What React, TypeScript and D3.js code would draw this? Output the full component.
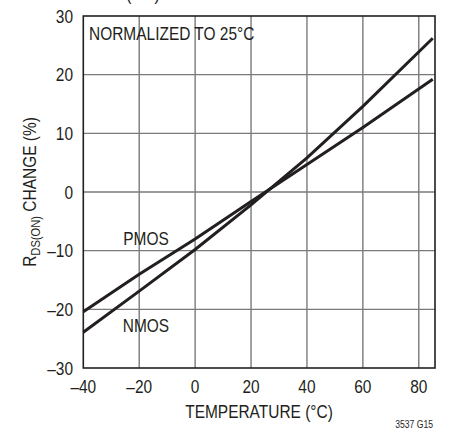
import React from "react";
import * as d3 from "d3";

const xTicks = [-40, -20, 0, 20, 40, 60, 80];
const yTicks = [-30, -20, -10, 0, 10, 20, 30];
const temps = [-40, -20, 0, 20, 40, 60, 85];
const nmos = [-23.9, -16.9, -9.8, -2.2, 5.8, 14.6, 26.2];
const pmos = [-20.4, -14.0, -8.0, -1.6, 4.7, 11.0, 19.2];

const W = 459;
const H = 440;
const FONT = "'Liberation Sans', Arial, sans-serif";
const INK = "#231f20";
const SX = 0.86;

function fmt(v: number) {
  return v < 0 ? "\u2013" + Math.abs(v) : String(v);
}

function T(props: {
  x: number;
  y: number;
  size?: number;
  anchor?: "start" | "middle" | "end";
  rotate?: number;
  children: React.ReactNode;
}) {
  const { x, y, size = 18, anchor = "start", rotate = 0, children } = props;
  return (
    <text
      transform={`translate(${x},${y}) rotate(${rotate}) scale(${SX},1)`}
      fontSize={size}
      textAnchor={anchor}
      fill={INK}
    >
      {children}
    </text>
  );
}

export default function App() {
  const x = d3.scaleLinear().domain([-40, 85.8]).range([83.3, 435]);
  const y = d3.scaleLinear().domain([-30, 30]).range([368, 16]);
  const line = d3
    .line<number>()
    .x((_, i) => x(temps[i]))
    .y((d) => y(d));

  const [x0, x1] = x.range();
  const [y0, y1] = y.range();

  return (
    <svg
      width={W}
      height={H}
      style={{ position: "absolute", left: 0, top: 0, background: "#fff" }}
      fontFamily={FONT}
    >
      <rect x={0} y={0} width={W} height={H} fill="#fff" />
      {/* cut-off top text, as in the reference */}
      <T x={143} y={-0.5} anchor="middle">(ON)</T>
      {/* grid */}
      {xTicks.slice(1).map((t) => (
        <line key={"vx" + t} x1={x(t)} x2={x(t)} y1={y1} y2={y0} stroke="#7a7a7a" strokeWidth={1.4} />
      ))}
      {yTicks.slice(1, -1).map((t) => (
        <line key={"hy" + t} x1={x0} x2={x1} y1={y(t)} y2={y(t)} stroke="#7a7a7a" strokeWidth={1.4} />
      ))}
      {/* border */}
      <rect x={x0} y={y1} width={x1 - x0} height={y0 - y1} fill="none" stroke={INK} strokeWidth={1.6} />
      {/* lines */}
      <path d={line(nmos) || ""} fill="none" stroke={INK} strokeWidth={3} />
      <path d={line(pmos) || ""} fill="none" stroke={INK} strokeWidth={3} />
      {/* tick labels */}
      {xTicks.map((t) => (
        <T key={"xl" + t} x={x(t)} y={393} anchor="middle">
          {fmt(t)}
        </T>
      ))}
      {yTicks.map((t) => (
        <T key={"yl" + t} x={73} y={y(t) + 6.5} anchor="end">
          {fmt(t)}
        </T>
      ))}
      {/* axis titles */}
      <T x={259} y={418} anchor="middle">TEMPERATURE (°C)</T>
      <T x={36} y={(y0 + y1) / 2} anchor="middle" rotate={-90}>
        R<tspan fontSize={13} dy={4}>DS(ON)</tspan>
        <tspan dy={-4}> CHANGE (%)</tspan>
      </T>
      {/* annotations */}
      <T x={89} y={40}>NORMALIZED TO 25°C</T>
      <T x={146} y={245} anchor="middle">PMOS</T>
      <T x={146} y={332} anchor="middle">NMOS</T>
      <T x={433} y={428} size={10} anchor="end">3537 G15</T>
    </svg>
  );
}
